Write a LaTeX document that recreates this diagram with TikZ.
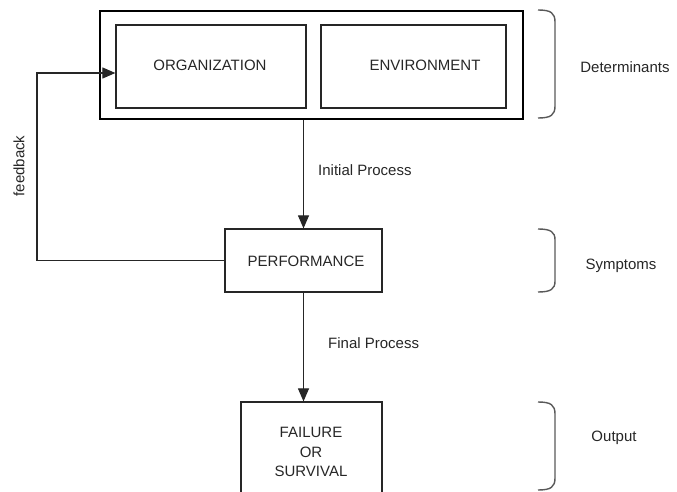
\documentclass[tikz,border=0pt]{standalone}
\usepackage{fontspec}
\setmainfont{Liberation Sans}
\usetikzlibrary{arrows.meta,positioning}
\begin{document}
\begin{tikzpicture}[x=1pt,y=-1pt,
  every node/.style={font=\fontsize{15}{19.5}\selectfont, text=black!85},
  box/.style={draw=black!85, line width=1.2pt, inner sep=0pt},
  frame/.style={draw=black, line width=2.8pt, inner sep=0pt},
  link/.style={draw=black!85, line width=1.1pt},
  arr/.style={link, -{Triangle[length=13pt,width=11pt]}},
  brace/.style={draw=black!65, line width=1.4pt},
  lbl/.style={inner sep=0pt}]
\useasboundingbox (0,0) rectangle (677,492);
\clip (0,0) rectangle (677,492);

% determinants: organization and environment inside a heavy frame
\node[frame, minimum width=423pt, minimum height=108pt] (outer) at (311.5,65) {};
\node[box, minimum width=190pt, minimum height=83pt] (org) at (211,66.5) {};
\node[box, minimum width=185pt, minimum height=83pt] (env) at (413.5,66.5) {};
\node[lbl] (orgtext) at (210,65) {ORGANIZATION};
\node[lbl] (envtext) at (425,65) {ENVIRONMENT};

% symptoms and output
\node[box, minimum width=157pt, minimum height=63pt] (perf) at (303.5,260.5) {};
\node[lbl] (perftext) at (306,261) {PERFORMANCE};
\node[box, minimum width=141pt, minimum height=120pt] (fail) at (311.5,462) {};
\node[lbl, align=center] (failtext) at (311,452) {FAILURE\\OR\\SURVIVAL};

% process arrows
\draw[arr] (perf.north |- outer.south) -- (perf.north);
\node[lbl, anchor=west] (initial) at (318,170) {Initial Process};
\draw[arr] (perf.south) -- (perf.south |- fail.north);
\node[lbl, anchor=west] (final) at (328,343) {Final Process};

% feedback loop
\coordinate (fbtop) at (37,73);
\draw[arr] (perf.west) -| (fbtop) -- (fbtop -| org.west);
\node[lbl, rotate=90] (feedback) at (19,166) {feedback};

% right-hand braces and their labels
\draw[brace] (538,10) .. controls (551,10) and (555,13) .. (555,22)
  -- (555,106) .. controls (555,115) and (551,118) .. (538,118);
\node[lbl] (determinants) at (625,67) {Determinants};
\draw[brace] (538,229) .. controls (551,229) and (555,232) .. (555,240)
  -- (555,281) .. controls (555,289) and (551,292) .. (538,292);
\node[lbl] (symptoms) at (621,266) {Symptoms};
\draw[brace] (538,402) .. controls (551,402) and (555,405) .. (555,414)
  -- (555,478) .. controls (555,487) and (551,490) .. (538,490);
\node[lbl] (output) at (614,438) {Output};
\end{tikzpicture}
\end{document}
